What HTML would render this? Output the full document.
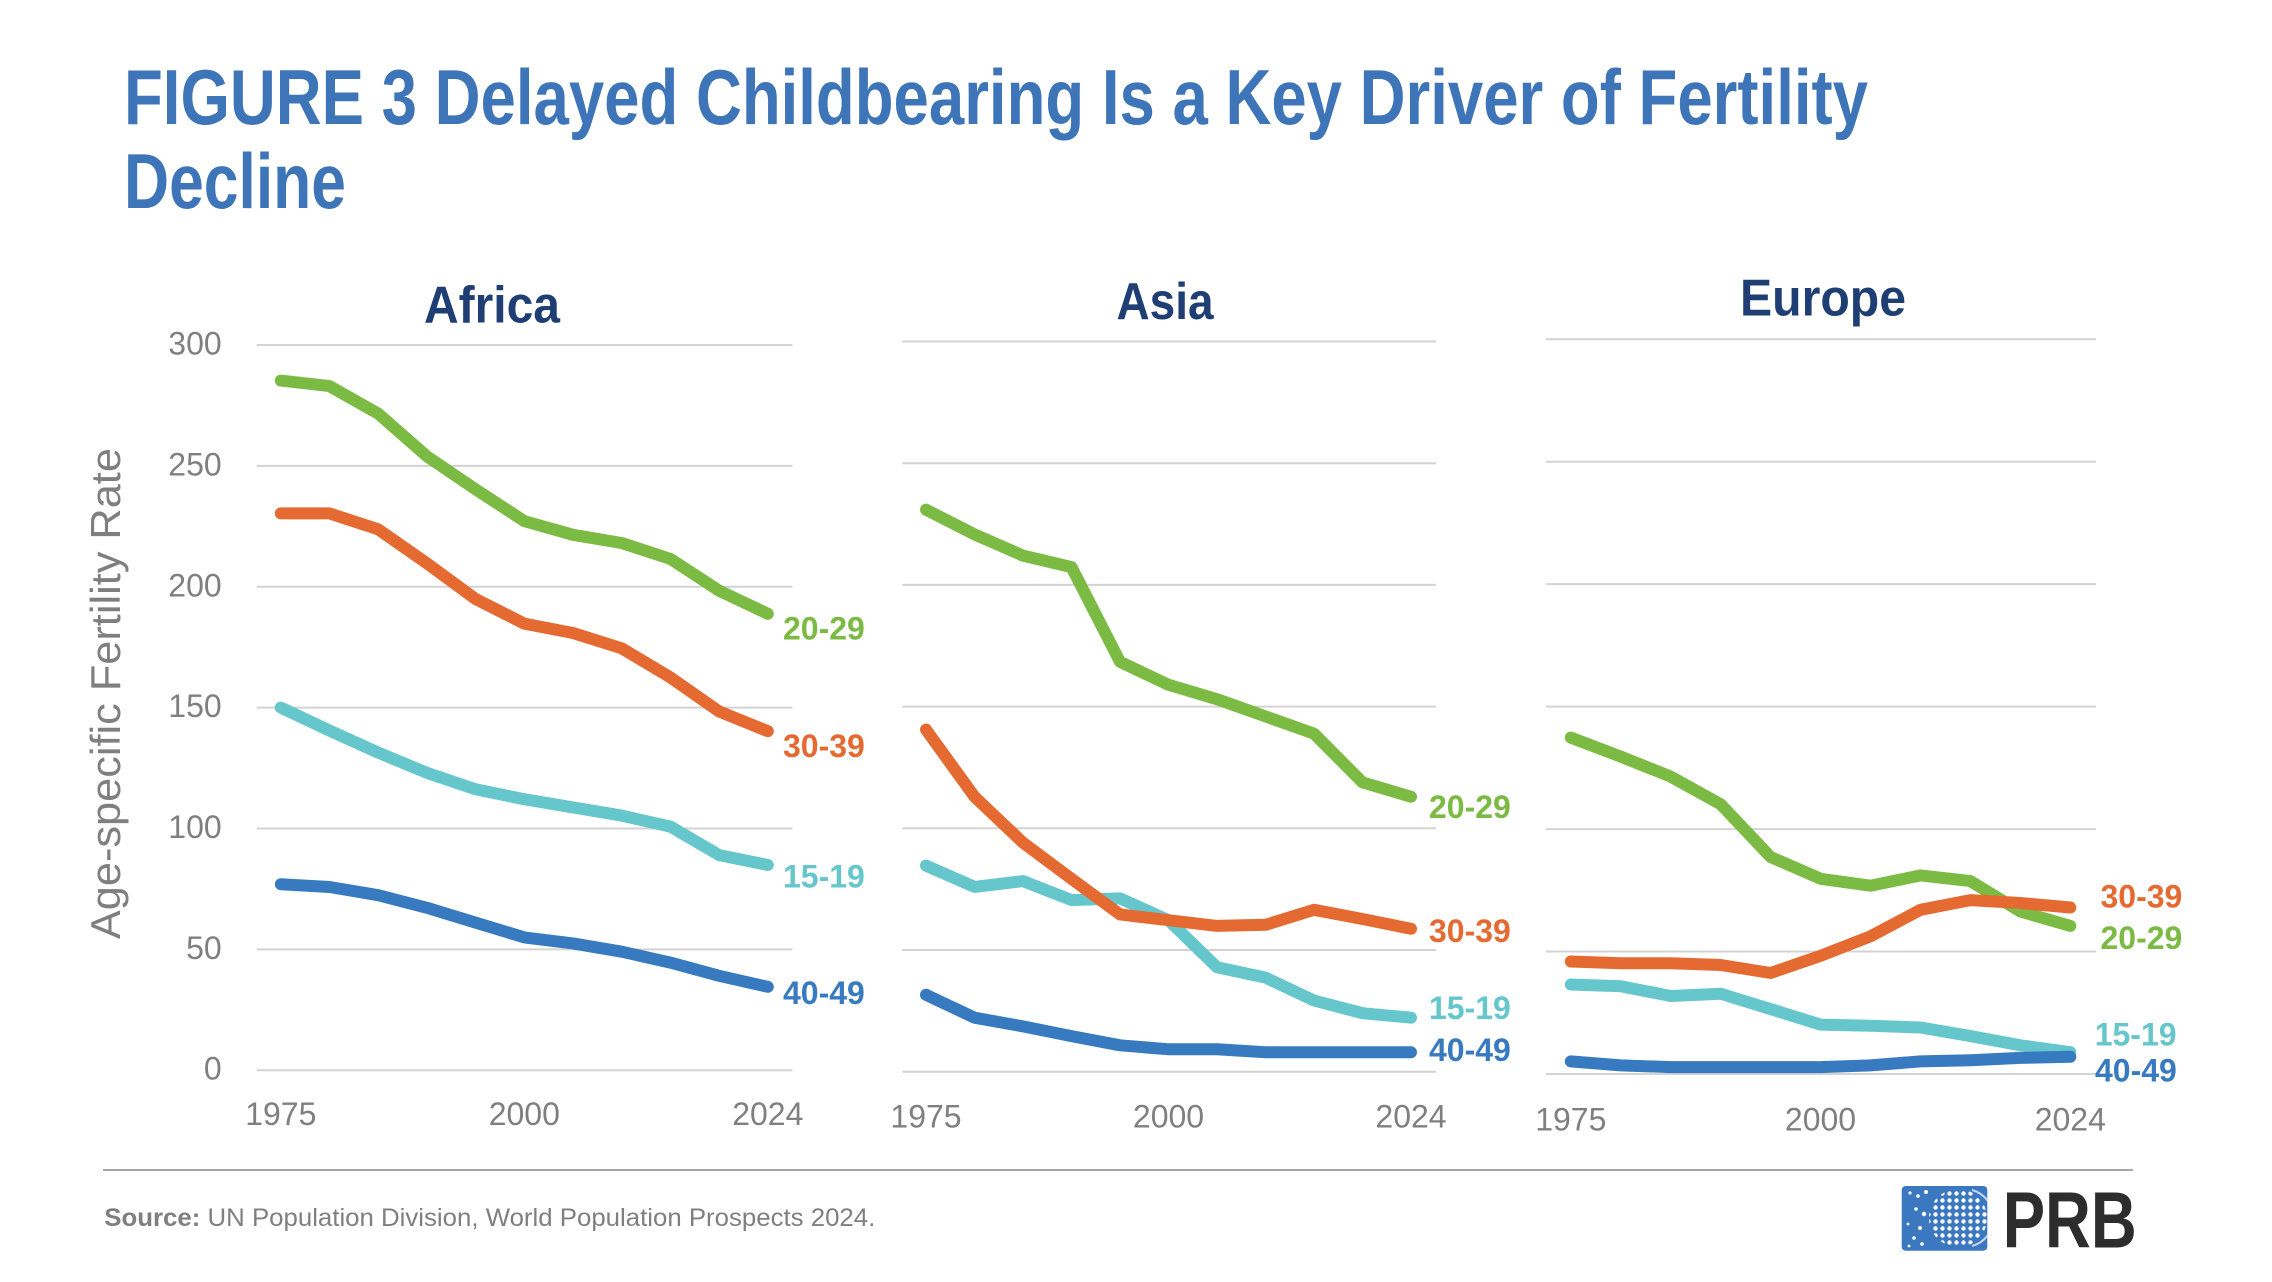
<!DOCTYPE html>
<html>
<head>
<meta charset="utf-8">
<style>
  html, body { margin: 0; padding: 0; background: #ffffff; }
  svg { display: block; }
  .tick { font-family: "Liberation Sans", sans-serif; font-size: 32px; fill: #7F7F7F; }
  .lab { font-family: "Liberation Sans", sans-serif; font-size: 32px; font-weight: bold; }
  .ptitle { font-family: "Liberation Sans", sans-serif; font-size: 52px; font-weight: bold; fill: #1F3F74; }
  .grid { stroke: #D3D3D3; stroke-width: 2; }
  .ln { fill: none; stroke-width: 12; stroke-linecap: round; stroke-linejoin: round; }
</style>
</head>
<body>
<svg width="2272" height="1282" viewBox="0 0 2272 1282" xmlns="http://www.w3.org/2000/svg">
  <rect x="0" y="0" width="2272" height="1282" fill="#ffffff"/>

  <!-- Main title -->
  <text x="124" y="124" font-family="Liberation Sans, sans-serif" font-weight="bold" font-size="78" fill="#3E74B8" textLength="1744" lengthAdjust="spacingAndGlyphs">FIGURE 3 Delayed Childbearing Is a Key Driver of Fertility</text>
  <text x="124" y="208" font-family="Liberation Sans, sans-serif" font-weight="bold" font-size="78" fill="#3E74B8" textLength="222" lengthAdjust="spacingAndGlyphs">Decline</text>

  <!-- Panel titles -->
  <text class="ptitle" x="492" y="322.7" text-anchor="middle" textLength="136" lengthAdjust="spacingAndGlyphs">Africa</text>
  <text class="ptitle" x="1165" y="319" text-anchor="middle" textLength="97" lengthAdjust="spacingAndGlyphs">Asia</text>
  <text class="ptitle" x="1823" y="315.7" text-anchor="middle" textLength="166" lengthAdjust="spacingAndGlyphs">Europe</text>

  <!-- Y axis title -->
  <text transform="translate(120,693.6) rotate(-90)" text-anchor="middle" font-family="Liberation Sans, sans-serif" font-size="42" fill="#7F7F7F" textLength="491" lengthAdjust="spacingAndGlyphs">Age-specific Fertility Rate</text>

  <!-- Africa gridlines -->
  <g class="grid">
    <line x1="256.7" x2="792.4" y1="345" y2="345"/>
    <line x1="256.7" x2="792.4" y1="465.9" y2="465.9"/>
    <line x1="256.7" x2="792.4" y1="586.8" y2="586.8"/>
    <line x1="256.7" x2="792.4" y1="707.6" y2="707.6"/>
    <line x1="256.7" x2="792.4" y1="828.5" y2="828.5"/>
    <line x1="256.7" x2="792.4" y1="949.4" y2="949.4"/>
    <line x1="256.7" x2="792.4" y1="1070.3" y2="1070.3"/>
  </g>
  <!-- Asia gridlines -->
  <g class="grid">
    <line x1="902.3" x2="1436" y1="341.5" y2="341.5"/>
    <line x1="902.3" x2="1436" y1="463.2" y2="463.2"/>
    <line x1="902.3" x2="1436" y1="584.9" y2="584.9"/>
    <line x1="902.3" x2="1436" y1="706.6" y2="706.6"/>
    <line x1="902.3" x2="1436" y1="828.3" y2="828.3"/>
    <line x1="902.3" x2="1436" y1="950" y2="950"/>
    <line x1="902.3" x2="1436" y1="1071.7" y2="1071.7"/>
  </g>
  <!-- Europe gridlines -->
  <g class="grid">
    <line x1="1546" x2="2096" y1="339.2" y2="339.2"/>
    <line x1="1546" x2="2096" y1="461.7" y2="461.7"/>
    <line x1="1546" x2="2096" y1="584.1" y2="584.1"/>
    <line x1="1546" x2="2096" y1="706.6" y2="706.6"/>
    <line x1="1546" x2="2096" y1="829.1" y2="829.1"/>
    <line x1="1546" x2="2096" y1="951.5" y2="951.5"/>
    <line x1="1546" x2="2096" y1="1074" y2="1074"/>
  </g>

  <!-- Y tick labels (Africa) -->
  <g class="tick" text-anchor="end">
    <text x="221.7" y="354.5">300</text>
    <text x="221.7" y="475.4">250</text>
    <text x="221.7" y="596.3">200</text>
    <text x="221.7" y="717.1">150</text>
    <text x="221.7" y="838">100</text>
    <text x="221.7" y="958.9">50</text>
    <text x="221.7" y="1079.5">0</text>
  </g>

  <!-- X tick labels -->
  <g class="tick" text-anchor="middle">
    <text x="280.8" y="1125">1975</text>
    <text x="524.3" y="1125">2000</text>
    <text x="767.8" y="1125">2024</text>
    <text x="926" y="1127.3">1975</text>
    <text x="1168.5" y="1127.3">2000</text>
    <text x="1411" y="1127.3">2024</text>
    <text x="1570.8" y="1130.7">1975</text>
    <text x="1820.5" y="1130.7">2000</text>
    <text x="2070.3" y="1130.7">2024</text>
  </g>

  <!-- Africa series -->
  <polyline class="ln" stroke="#65C6CC" points="280.8,707.6 329.5,730.6 378.2,752.6 426.9,772.8 475.6,789.3 524.3,799.2 573,807.4 621.7,815.6 670.4,826.6 719.1,855.1 767.8,865"/>
  <polyline class="ln" stroke="#7BBA43" points="280.8,380.6 329.5,386.1 378.2,413.6 426.9,456.3 475.6,489.3 524.3,521.1 573,534.8 621.7,543 670.4,558.9 719.1,590.7 767.8,613.8"/>
  <polyline class="ln" stroke="#E56A32" points="280.8,513.4 329.5,513.4 378.2,529.3 426.9,563.3 475.6,599 524.3,623.6 573,633 621.7,648.3 670.4,677.4 719.1,711.4 767.8,731.2"/>
  <polyline class="ln" stroke="#377ABF" points="280.8,884.2 329.5,887 378.2,895.2 426.9,907.8 475.6,922.6 524.3,937.4 573,943.4 621.7,951.7 670.4,962.6 719.1,975.8 767.8,986.8"/>

  <!-- Asia series -->
  <polyline class="ln" stroke="#65C6CC" points="926,865.6 974.5,886.9 1023,881.1 1071.5,900.1 1120,898.4 1168.5,920.2 1217,967.3 1265.5,977.6 1314,1000.5 1362.5,1013.2 1411,1017.7"/>
  <polyline class="ln" stroke="#7BBA43" points="926,509.7 974.5,534.4 1023,555.6 1071.5,567.1 1120,661.8 1168.5,684.8 1217,699.2 1265.5,716.4 1314,733.6 1362.5,782.4 1411,796.7"/>
  <polyline class="ln" stroke="#E56A32" points="926,729.6 974.5,796.7 1023,842.7 1071.5,878.8 1120,914.4 1168.5,920.2 1217,925.9 1265.5,924.8 1314,909.8 1362.5,919 1411,928.8"/>
  <polyline class="ln" stroke="#377ABF" points="926,994.8 974.5,1017.7 1023,1026.4 1071.5,1036.1 1120,1045.3 1168.5,1049.3 1217,1049.3 1265.5,1052.2 1314,1052.2 1362.5,1052.2 1411,1052.2"/>

  <!-- Europe series -->
  <polyline class="ln" stroke="#65C6CC" points="1570.8,984.5 1620.8,986.2 1670.7,996 1720.7,993.7 1770.6,1009.1 1820.6,1024.6 1870.5,1025.8 1920.5,1027.5 1970.4,1036.1 2020.4,1045.3 2070.3,1052.2"/>
  <polyline class="ln" stroke="#7BBA43" points="1570.8,737.6 1620.8,756.6 1670.7,776.6 1720.7,804.2 1770.6,857 1820.6,878.8 1870.5,885.7 1920.5,875.4 1970.4,881.1 2020.4,911.5 2070.3,925.9"/>
  <polyline class="ln" stroke="#E56A32" points="1570.8,961.5 1620.8,963.2 1670.7,963.2 1720.7,965 1770.6,973 1820.6,955.8 1870.5,936.3 1920.5,909.8 1970.4,900.1 2020.4,903 2070.3,907.5"/>
  <polyline class="ln" stroke="#377ABF" points="1570.8,1061.4 1620.8,1065.4 1670.7,1067.1 1720.7,1067.1 1770.6,1067.1 1820.6,1067.1 1870.5,1065.4 1920.5,1061.4 1970.4,1060.2 2020.4,1057.9 2070.3,1056.8"/>

  <!-- Series labels -->
  <g class="lab">
    <text x="783" y="639.5" fill="#7BBA43">20-29</text>
    <text x="783" y="757" fill="#E56A32">30-39</text>
    <text x="783" y="887.5" fill="#65C6CC">15-19</text>
    <text x="783" y="1003.8" fill="#377ABF">40-49</text>

    <text x="1429" y="818" fill="#7BBA43">20-29</text>
    <text x="1429" y="942" fill="#E56A32">30-39</text>
    <text x="1429" y="1019" fill="#65C6CC">15-19</text>
    <text x="1429" y="1061" fill="#377ABF">40-49</text>

    <text x="2100.5" y="907.5" fill="#E56A32">30-39</text>
    <text x="2100.5" y="949" fill="#7BBA43">20-29</text>
    <text x="2094.7" y="1045.3" fill="#65C6CC">15-19</text>
    <text x="2095" y="1081.5" fill="#377ABF">40-49</text>
  </g>

  <!-- Footer separator -->
  <line x1="103" x2="2133" y1="1170" y2="1170" stroke="#A6A6A6" stroke-width="2"/>

  <!-- Source -->
  <text x="104.3" y="1226" font-family="Liberation Sans, sans-serif" font-size="25" fill="#7F7F7F" textLength="771" lengthAdjust="spacingAndGlyphs"><tspan font-weight="bold">Source:</tspan> UN Population Division, World Population Prospects 2024.</text>

  <!-- PRB logo -->
  <defs>
    <pattern id="dots" x="0" y="0" width="7" height="7" patternUnits="userSpaceOnUse">
      <circle cx="3.5" cy="3.5" r="2.2" fill="#ffffff"/>
    </pattern>
    <clipPath id="logoclip">
      <rect x="1901.7" y="1186" width="85.6" height="64.7" rx="4"/>
    </clipPath>
  </defs>
  <rect x="1901.7" y="1186" width="85.6" height="64.7" rx="4" fill="#3B78C0"/>
  <g clip-path="url(#logoclip)">
    <circle cx="1958" cy="1218" r="29" fill="url(#dots)"/>
    <path d="M1972,1190 A29,29 0 0 1 1972,1246" fill="none" stroke="#ffffff" stroke-width="2" opacity="0.7"/>
    <circle cx="1910" cy="1193" r="1.6" fill="#ffffff"/>
    <circle cx="1918" cy="1196" r="1.8" fill="#ffffff"/>
    <circle cx="1926" cy="1192" r="2" fill="#ffffff"/>
    <circle cx="1916" cy="1209" r="1.8" fill="#ffffff"/>
    <circle cx="1924" cy="1214" r="2.2" fill="#ffffff"/>
    <circle cx="1908" cy="1224" r="1.4" fill="#ffffff"/>
    <circle cx="1920" cy="1228" r="2" fill="#ffffff"/>
    <circle cx="1914" cy="1238" r="1.8" fill="#ffffff"/>
    <circle cx="1909" cy="1246" r="1.4" fill="#ffffff"/>
    <circle cx="1922" cy="1244" r="1.8" fill="#ffffff"/>
  </g>
  <text x="2002.7" y="1247.3" font-family="Liberation Sans, sans-serif" font-weight="bold" font-size="80" fill="#2D2D2D" textLength="134" lengthAdjust="spacingAndGlyphs">PRB</text>
</svg>
</body>
</html>
